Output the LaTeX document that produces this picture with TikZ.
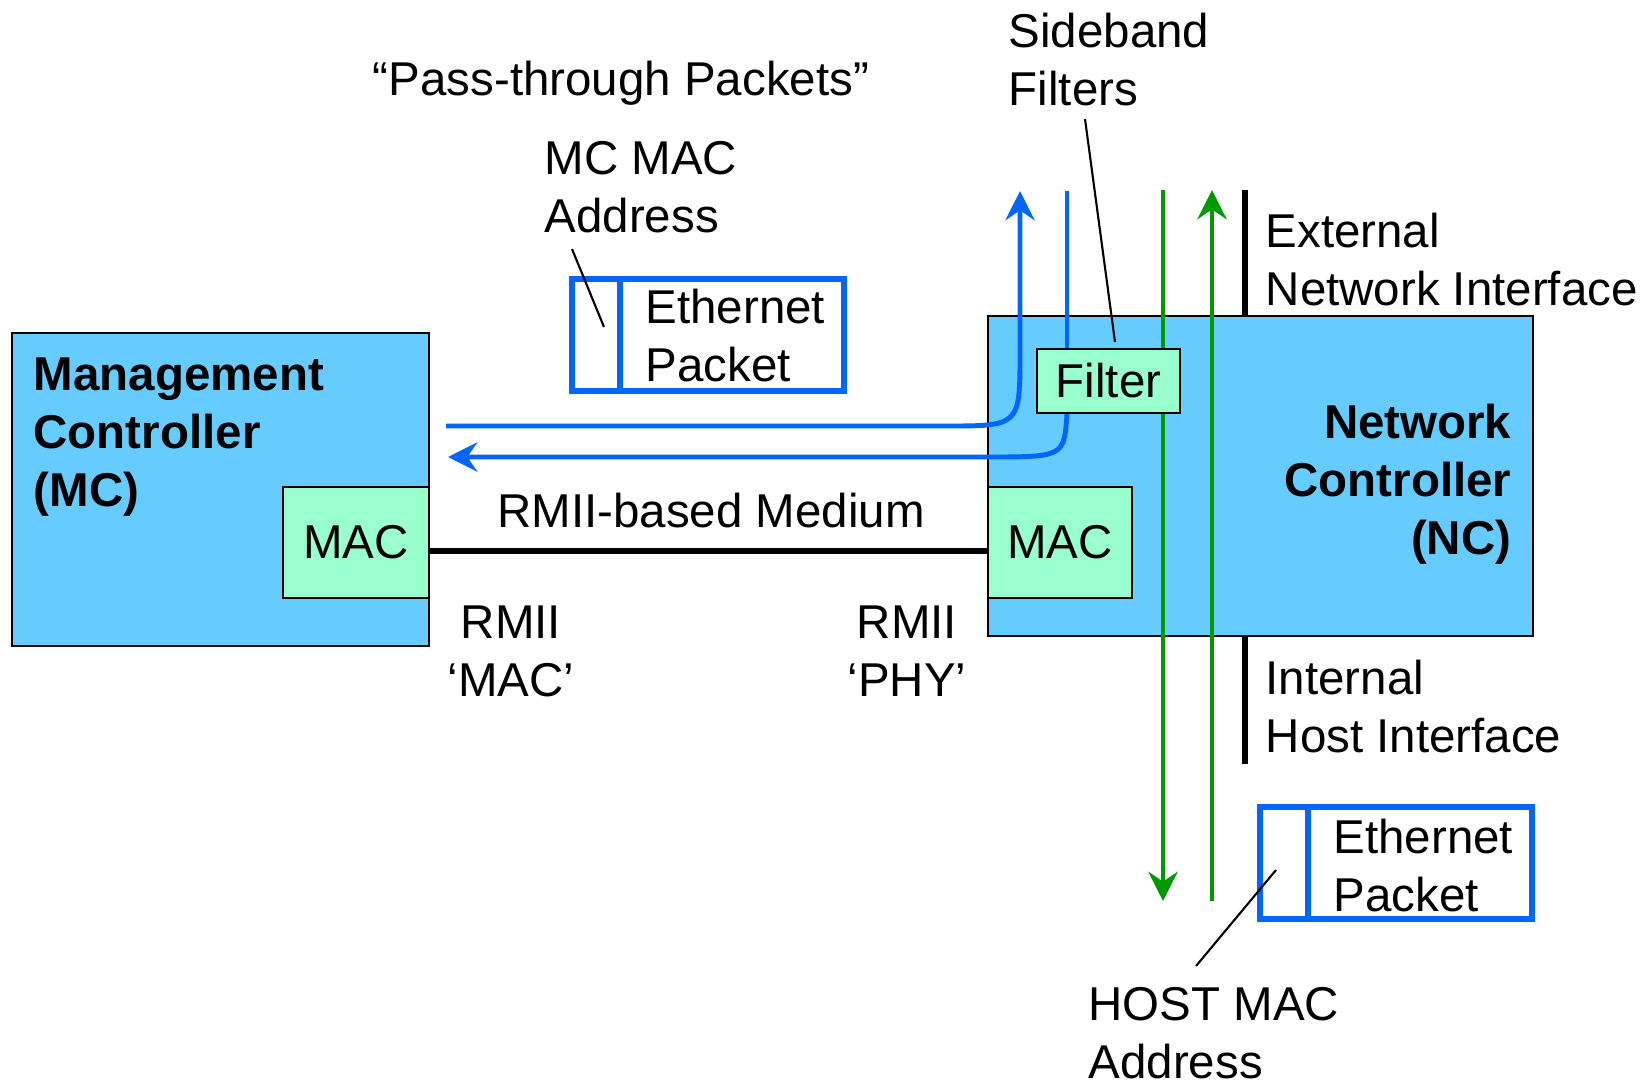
\documentclass[tikz,border=0pt]{standalone}
\usepackage{fontspec}
\setmainfont{Liberation Sans}
\usetikzlibrary{arrows.meta,positioning}
\definecolor{ctrlblue}{HTML}{66CCFF}
\definecolor{macgreen}{HTML}{99FFCC}
\definecolor{pktblue}{HTML}{0066FF}
\definecolor{flowgreen}{HTML}{009900}
\newcommand{\dfont}{\fontsize{13.5}{16.4}\selectfont}

\begin{document}
\begin{tikzpicture}[x=0.01cm, y=-0.01cm,
    ctrl/.style={draw, fill=ctrlblue, line width=0.6pt, inner sep=0pt},
    mac/.style={draw, fill=macgreen, line width=0.6pt, inner sep=0pt, font=\dfont},
    pkt/.style={draw=pktblue, line width=1.7pt, inner sep=0pt,
                minimum width=2.72cm, minimum height=1.12cm},
    lbl/.style={inner sep=0pt, font=\dfont},
    bold/.style={inner sep=0pt, font=\dfont\bfseries},
    barr/.style={pktblue, line width=1.4pt},
    garr/.style={flowgreen, line width=1.4pt},
    tip/.style={-{Stealth[length=8.3pt,width=8.3pt,inset=2.8pt]}},
    lead/.style={line width=0.6pt}
]
\useasboundingbox (0,0) rectangle (1652,1084);

% controllers
\node[ctrl, minimum width=4.17cm, minimum height=3.13cm] (mc) at (220.5,489.5) {};
\node[ctrl, minimum width=5.45cm, minimum height=3.20cm] (nc) at (1260.5,476) {};
\node[mac, minimum width=1.46cm, minimum height=1.11cm] (mcmac) at (356,542.5) {MAC};
\node[mac, minimum width=1.44cm, minimum height=1.11cm] (ncmac) at (1060,542.5) {MAC};

% multi-line labels: base = last line
\node[bold, anchor=base west, align=left] (mclbl) at (33,506)
    {Management\\Controller\\(MC)};
\node[bold, anchor=base east, align=right] (nclbl) at (1512,554)
    {Network\\Controller\\(NC)};

% RMII medium
\draw[line width=1.7pt] ([yshift=-0.08cm]mcmac.east) -- ([yshift=-0.08cm]ncmac.west);
\node[lbl, anchor=base] (medium) at (711,527) {RMII-based Medium};
\node[lbl, anchor=base, align=center] (rmiimac) at (511,696.5) {RMII\\‘MAC’};
\node[lbl, anchor=base, align=center] (rmiiphy) at (907,696.5) {RMII\\‘PHY’};

% host traffic
\coordinate (gtop1) at (1163,190);
\coordinate (gbot1) at (1163,901);
\coordinate (gtop2) at (1212,190);
\coordinate (gbot2) at (1212,901);
\draw[garr, tip] (gtop1) -- (gbot1);
\draw[garr, tip] (gbot2) -- (gtop2);

\node[mac, minimum width=1.43cm, minimum height=0.64cm] (filter) at (1108.5,381) {Filter};

% pass-through traffic
\coordinate (mcout) at (446,426);
\coordinate (sbup) at (1020,191);
\coordinate (sbin) at (1067,191);
\coordinate (mcin) at (448,457);
\draw[barr, tip] (mcout) -- (945,426) .. controls (1020,426) .. (1020,352) -- (sbup);
\draw[barr] (sbin) -- (sbin |- filter.north);
\draw[barr, tip] (sbin |- filter.south) .. controls (1064,457) .. (985,457) -- (mcin);

% interfaces
\coordinate (extop) at (1245,190);
\coordinate (inbot) at (1245,764);
\draw[line width=1.5pt] (extop) -- (extop |- nc.north);
\draw[line width=1.5pt] (inbot |- nc.south) -- (inbot);
\node[lbl, anchor=base west, align=left] (extlbl) at (1265,305)
    {External\\Network Interface};
\node[lbl, anchor=base west, align=left] (intlbl) at (1265,752)
    {Internal\\Host Interface};

% packets
\node[lbl, anchor=base] (pass) at (621,95) {“Pass-through Packets”};
\node[pkt] (mcpkt) at (708,334.75) {};
\draw[pktblue, line width=1.7pt] (mcpkt.north -| 620,0) -- (mcpkt.south -| 620,0);
\node[lbl, anchor=base west, align=left] (mcpkttxt) at (645,381) {Ethernet\\Packet};
\node[lbl, anchor=base west, align=left] (mcaddr) at (544,232) {MC MAC\\Address};
\coordinate (mcldr1) at (572,249);
\coordinate (mcldr2) at (604,327);
\draw[lead] (mcldr1) -- (mcldr2);

\node[pkt] (hostpkt) at (1396,863) {};
\draw[pktblue, line width=1.7pt] (hostpkt.north -| 1308,0) -- (hostpkt.south -| 1308,0);
\node[lbl, anchor=base west, align=left] (hostpkttxt) at (1333,911) {Ethernet\\Packet};
\node[lbl, anchor=base west, align=left] (hostaddr) at (1088,1078) {HOST MAC\\Address};
\coordinate (hostldr1) at (1276,870);
\coordinate (hostldr2) at (1196,966);
\draw[lead] (hostldr1) -- (hostldr2);

% sideband filters
\node[lbl, anchor=base west, align=left] (sideband) at (1008,105) {Sideband\\Filters};
\coordinate (sbldr1) at (1085,119);
\coordinate (sbldr2) at (1115,342);
\draw[lead] (sbldr1) -- (sbldr2);
\end{tikzpicture}
\end{document}
